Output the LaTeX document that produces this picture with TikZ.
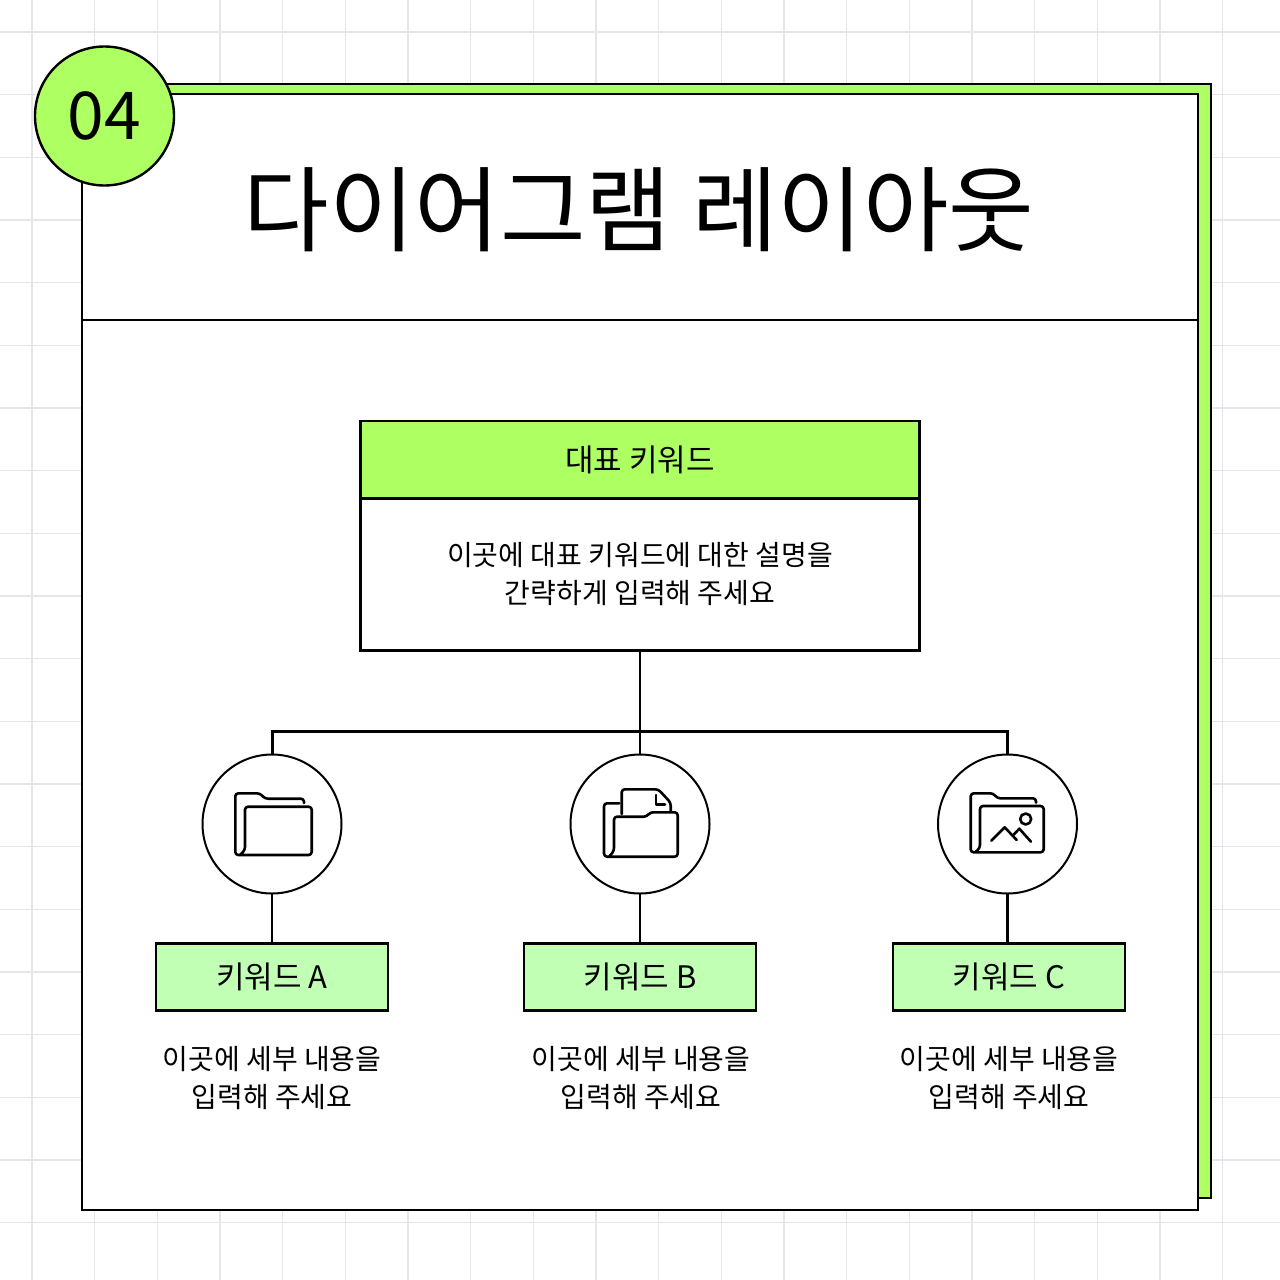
\documentclass[tikz,border=0pt]{standalone}
\usepackage{fontspec}
\setmainfont{Noto Sans CJK KR}
\definecolor{limegreen}{HTML}{ADFF62}
\definecolor{palegreen}{HTML}{C0FFB4}
\definecolor{gridgray}{HTML}{E6E6EA}
\tikzset{
  frameline/.style={draw=black,line width=1.2pt},
  linkline/.style={draw=black,line width=1.4pt},
  iconline/.style={draw=black,line width=1.3pt,line join=round,line cap=round,rounded corners=1.5pt},
  iconring/.style={circle,draw=black,line width=1pt,fill=white,minimum size=69.5pt,inner sep=0pt,outer sep=0pt},
  headbox/.style={rectangle,frameline,fill=limegreen,minimum width=279.5pt,minimum height=39pt,inner sep=0pt,outer sep=0pt,font=\fontsize{15.5}{19}\selectfont},
  textbox/.style={rectangle,frameline,fill=white,minimum width=279.5pt,minimum height=76pt,inner sep=0pt,outer sep=0pt,align=center,font=\fontsize{14}{19}\selectfont},
  keybox/.style={rectangle,frameline,fill=palegreen,minimum width=116pt,minimum height=33.5pt,inner sep=0pt,outer sep=0pt,font=\fontsize{15.5}{19}\selectfont},
  detail/.style={align=center,inner sep=0pt,font=\fontsize{14}{19}\selectfont},
}
\begin{document}
\begin{tikzpicture}[x=0.5pt,y=-0.5pt]
\useasboundingbox (0,0) rectangle (1280,1280);
% grid
\foreach \k in {0,...,19} {
  \draw[gridgray,line width=0.6pt] ({32+62.67*\k},0) -- ({32+62.67*\k},1280);
  \draw[gridgray,line width=0.6pt] (0,{32+62.67*\k}) -- (1280,{32+62.67*\k});
}
% panel
\draw[frameline,fill=limegreen] (94,84) rectangle (1211,1198);
\draw[frameline,fill=white] (82,94) rectangle (1198,1210);
\node[frameline,circle,fill=limegreen,minimum size=69.5pt,inner sep=0pt,outer sep=0pt,font=\fontsize{33}{33}\selectfont] (badge) at (104.5,116) {04};
\node[inner sep=0pt,font=\fontsize{46.5}{46.5}\selectfont] (title) at (639,210) {다이어그램 레이아웃};
\coordinate (divl) at (83,320);
\coordinate (divr) at (1197,320);
\draw[frameline] (divl) -- (divr);
% main box
\node[headbox] (mainhead) at (640,460) {대표 키워드};
\node[textbox] (mainbody) at (640,574.5) {이곳에 대표 키워드에 대한 설명을\\간략하게 입력해 주세요};
% icon rings
\node[iconring] (ringa) at (272,824) {};
\node[iconring] (ringb) at (640,824) {};
\node[iconring] (ringc) at (1007.5,824) {};
% keyword boxes
\node[keybox] (keya) at (272,977) {키워드 A};
\node[keybox] (keyb) at (640,977) {키워드 B};
\node[keybox] (keyc) at (1009,977) {키워드 C};
\node[detail] (deta) at (272,1078) {이곳에 세부 내용을\\입력해 주세요};
\node[detail] (detb) at (641,1078) {이곳에 세부 내용을\\입력해 주세요};
\node[detail] (detc) at (1009,1078) {이곳에 세부 내용을\\입력해 주세요};
% connectors
\coordinate (bus) at (640,731);
\draw[linkline] (mainbody.south) -- (ringb.north);
\draw[black,line width=1.5pt] (ringa.north) |- (bus) -| (ringc.north);
\draw[linkline] (ringa.south) -- (keya.north);
\draw[linkline] (ringb.south) -- (keyb.north);
\draw[linkline] (ringc.south) -- (ringc.south |- keyc.north);
% folder A
\draw[iconline] (304,803) -- (304,798.7) -- (265,798.7) -- (260,793.3) -- (235.3,793.3) -- (235.3,855) -- (311.7,855) -- (311.7,806.7) -- (245,806.7) -- (245,850) -- (240,855);
% folder B
\draw[iconline] (619.3,803.3) -- (604,803.3) -- (604,856.7) -- (677.7,856.7) -- (677.7,812.3) -- (650,812.3) -- (646.7,816.7) -- (614,816.7) -- (614,851) -- (609,856.7);
\draw[iconline] (621.7,814) -- (621.7,789.3) -- (658.3,789.3) -- (670.7,802.7) -- (670.7,811);
\draw[iconline,rounded corners=0pt] (656,795) -- (656,804.3) -- (665,804.3);
% folder C
\draw[iconline] (1036,802.7) -- (1036,798.3) -- (997.3,798.3) -- (993.3,793.3) -- (970.7,793.3) -- (970.7,852.3) -- (1043.7,852.3) -- (1043.7,806) -- (980,806) -- (980,848) -- (975,852.3);
\draw[iconline,rounded corners=0pt] (1025.7,819) circle (5.5);
\draw[iconline,rounded corners=0pt] (991.3,840.7) -- (1004.7,827.3) -- (1016.7,840);
\draw[iconline,rounded corners=0pt] (1012.7,835.7) -- (1019.3,828.7) -- (1031,841.7);
\end{tikzpicture}
\end{document}
